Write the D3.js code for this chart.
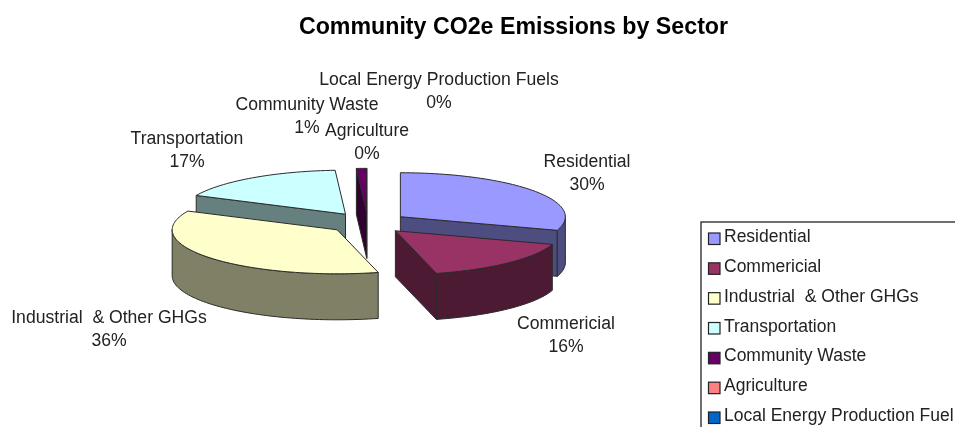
<!DOCTYPE html>
<html>
<head>
<meta charset="utf-8">
<title>Community CO2e Emissions by Sector</title>
<script src="https://cdn.jsdelivr.net/npm/d3@7"></script>
<style>
  html, body { margin: 0; padding: 0; background: #fff; overflow: hidden; }
  svg { display: block; filter: blur(0.5px); }
  text { font-family: "Liberation Sans", Arial, sans-serif; fill: #222; }
</style>
</head>
<body>
<div id="chart"></div>
<script>
// Chart data
const sectors = ["Residential", "Commericial", "Industrial  & Other GHGs", "Transportation", "Community Waste", "Agriculture", "Local Energy Production Fuels"];
const legendNames = ["Residential", "Commericial", "Industrial  & Other GHGs", "Transportation", "Community Waste", "Agriculture", "Local Energy Production Fuel"];
const shares = [30, 16, 36, 17, 1, 0, 0];
const topColors = ["#9999ff", "#993366", "#ffffcc", "#ccffff", "#660066", "#ff8080", "#0066cc"];
const wallColors = ["#4d4d80", "#4d1a33", "#808066", "#668080", "#330033", "#804040", "#003366"];

// Data label anchors, one per sector: [centre x, first baseline y]
const labelAnchors = [[587, 167], [566, 329], [109, 323], [187, 144], [307, 110], [367, 136], [439, 85]];

const width = 955, height = 427;
const cx = 368, cy = 223;
const radiusX = 165, radiusY = 44;
const depth = 46;
const explode = 40 / 165; // pulled out by this share of the radius

const svg = d3.select("#chart").append("svg")
  .attr("width", width)
  .attr("height", height);

svg.append("text")
  .attr("x", 513.5)
  .attr("y", 34)
  .attr("text-anchor", "middle")
  .style("font-size", "23.2px")
  .style("font-weight", "bold")
  .style("fill", "#000")
  .text("Community CO2e Emissions by Sector");

// Pie seen from above at a tilt: unit circle coordinates to screen
const x = d3.scaleLinear().domain([-1, 1]).range([cx - radiusX, cx + radiusX]);
const y = d3.scaleLinear().domain([-1, 1]).range([cy + radiusY, cy - radiusY]);

const slices = d3.pie().sort(null).value(d => d)(shares).map((s, i) => {
  const mid = (s.startAngle + s.endAngle) / 2;
  return { ...s, i, mid, ox: Math.sin(mid) * explode, oy: Math.cos(mid) * explode };
});

const line = d3.line();
const project = (s, angle, r, drop) => [
  x(s.ox + r * Math.sin(angle)),
  y(s.oy + r * Math.cos(angle)) + drop
];

function arcAngles(a0, a1) {
  const n = Math.max(2, Math.ceil((a1 - a0) / 0.03));
  return d3.range(n + 1).map(k => a0 + (a1 - a0) * k / n);
}

function drawPath(points, fill) {
  svg.append("path")
    .attr("d", line(points) + "Z")
    .attr("fill", fill)
    .attr("stroke", "#2b2b2b")
    .attr("stroke-width", 1)
    .attr("stroke-linejoin", "round");
}

function radialWall(s, angle) {
  drawPath([
    project(s, 0, 0, 0),
    project(s, angle, 1, 0),
    project(s, angle, 1, depth),
    project(s, 0, 0, depth)
  ], wallColors[s.i]);
}

// Paint back to front, the empty slices have nothing to show
const order = slices.filter(s => s.value > 0).sort((a, b) => Math.cos(b.mid) - Math.cos(a.mid));

order.forEach(s => {
  if (Math.sin(s.startAngle) < -1e-9) radialWall(s, s.startAngle);
  if (Math.sin(s.endAngle) > -1e-9) radialWall(s, s.endAngle);

  // Outer wall is only seen on the front half of the rim
  const a0 = Math.max(s.startAngle, Math.PI / 2);
  const a1 = Math.min(s.endAngle, Math.PI * 1.5);
  if (a1 > a0) {
    const angles = arcAngles(a0, a1);
    drawPath(
      angles.map(a => project(s, a, 1, 0))
        .concat(angles.slice().reverse().map(a => project(s, a, 1, depth))),
      wallColors[s.i]
    );
  }

  drawPath(
    [project(s, 0, 0, 0)].concat(arcAngles(s.startAngle, s.endAngle).map(a => project(s, a, 1, 0))),
    topColors[s.i]
  );
});

// Data labels
const labels = svg.append("g").style("font-size", "17.6px");
sectors.forEach((name, i) => {
  const t = labels.append("text")
    .attr("text-anchor", "middle")
    .attr("x", labelAnchors[i][0])
    .attr("y", labelAnchors[i][1]);
  t.append("tspan").text(name).style("white-space", "pre");
  t.append("tspan")
    .attr("x", labelAnchors[i][0])
    .attr("dy", 22.5)
    .text(shares[i] + "%");
});

// Legend, its box runs off the right and bottom of the picture
const legend = svg.append("g").attr("transform", "translate(701,222)");
legend.append("rect")
  .attr("width", 300)
  .attr("height", 260)
  .attr("fill", "#fff")
  .attr("stroke", "#222")
  .attr("stroke-width", 1.3);

const legendY = d3.scalePoint().domain(legendNames).range([16, 195]);
const rows = legend.selectAll("g.row")
  .data(legendNames)
  .join("g")
  .attr("class", "row")
  .attr("transform", d => `translate(0,${legendY(d)})`);

rows.append("rect")
  .attr("x", 7.5)
  .attr("y", -5)
  .attr("width", 11.5)
  .attr("height", 11.5)
  .attr("fill", (d, i) => topColors[i])
  .attr("stroke", "#222")
  .attr("stroke-width", 1.2);

rows.append("text")
  .attr("x", 23)
  .attr("y", 4)
  .style("font-size", "17.5px")
  .style("white-space", "pre")
  .text(d => d);
</script>
</body>
</html>
